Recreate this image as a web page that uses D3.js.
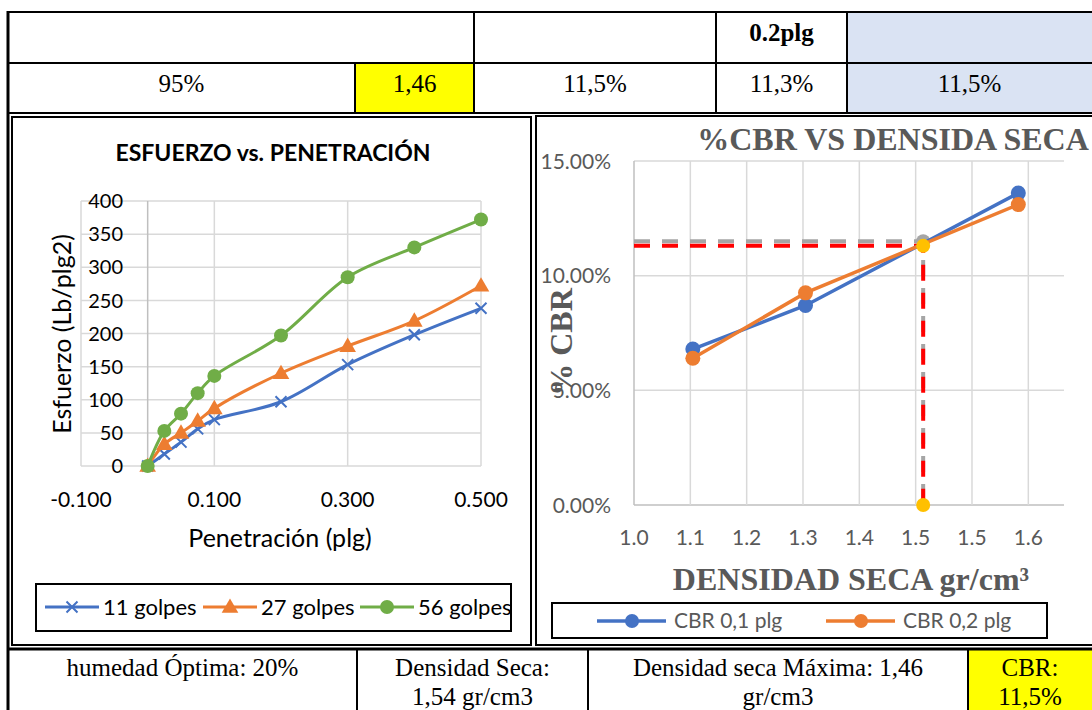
<!DOCTYPE html>
<html>
<head>
<meta charset="utf-8">
<script src="https://cdn.jsdelivr.net/npm/d3@7"></script>
<style>
  html, body { margin: 0; padding: 0; background: #fff; }
  svg { display: block; }
</style>
</head>
<body>
<div class="container"></div>
<script>
const w = 1092;
const h = 710;

// --- data: esfuerzo vs penetracion
const penetracion = [0, 0.025, 0.05, 0.075, 0.1, 0.2, 0.3, 0.4, 0.5];
const golpes11 = [0, 18, 36, 56, 70, 97, 153, 198, 238];
const golpes27 = [0, 33, 50, 68, 87, 140, 181, 219, 272];
const golpes56 = [0, 53, 79, 110, 136, 197, 285, 330, 372];
const penTicks = [-0.1, 0.1, 0.3, 0.5];
const esfTicks = [0, 50, 100, 150, 200, 250, 300, 350, 400];

// --- data: %CBR vs densidad seca
const densidad = [1.094, 1.274, 1.614];
const cbr01 = [6.8, 8.7, 13.6];
const cbr02 = [6.4, 9.25, 13.1];
const densTicks = [1.0, 1.09, 1.18, 1.27, 1.36, 1.45, 1.54, 1.63];
const densLabels = ["1.0", "1.1", "1.2", "1.3", "1.4", "1.5", "1.5", "1.6"];
const cbrTicks = [0, 5, 10, 15];
const dens95 = 1.462;
const cbrAt01 = 11.5;
const cbrAt02 = 11.3;

// --- table texts
const topRow1 = ["", "", "0.2plg", ""];
const topRow2 = ["95%", "1,46", "11,5%", "11,3%", "11,5%"];
const bottomRow = [["humedad Óptima: 20%"], ["Densidad Seca:", "1,54 gr/cm3"], ["Densidad seca Máxima: 1,46", "gr/cm3"], ["CBR:", "11,5%"]];

const sans = "Lato, 'Open Sans', sans-serif";
const serif = "'Liberation Serif', 'Times New Roman', serif";
const blue = "#4472c4", orange = "#ed7d31", green = "#70ad47", gray = "#a5a5a5", gold = "#ffc000";
const grid = "#d9d9d9", axisGray = "#bfbfbf", txtGray = "#595959";

const svg = d3.select('.container').append('svg')
  .attr('width', w)
  .attr('height', h);

svg.append('rect').attr('width', w).attr('height', h).attr('fill', '#fff');

// ================= top table =================
const topTable = svg.append('g');
const r1 = [8, 474, 716, 847, 1100];
const r2 = [8, 355, 474, 716, 847, 1100];
topTable.append('rect').attr('x', 847).attr('y', 12).attr('width', 260).attr('height', 101).attr('fill', '#dae3f3');
topTable.append('rect').attr('x', 355).attr('y', 63).attr('width', 119).attr('height', 50).attr('fill', '#ffff00');

topTable.append('line').attr('x1', 8).attr('x2', 1100).attr('y1', 12).attr('y2', 12);
topTable.append('line').attr('x1', 8).attr('x2', 1100).attr('y1', 63).attr('y2', 63);
topTable.append('line').attr('x1', 8).attr('x2', 1100).attr('y1', 113).attr('y2', 113);
r1.slice(1, -1).forEach(x => topTable.append('line').attr('x1', x).attr('x2', x).attr('y1', 12).attr('y2', 63));
r2.slice(1, -1).forEach(x => topTable.append('line').attr('x1', x).attr('x2', x).attr('y1', 63).attr('y2', 113));
topTable.selectAll('line').attr('stroke', '#000').attr('stroke-width', 2);

topRow1.forEach((t, i) => {
  topTable.append('text')
    .attr('x', (r1[i] + Math.min(r1[i + 1], w)) / 2)
    .attr('y', 41)
    .attr('text-anchor', 'middle')
    .attr('font-family', serif).attr('font-size', 25).attr('font-weight', 'bold')
    .text(t);
});
topRow2.forEach((t, i) => {
  topTable.append('text')
    .attr('x', (r2[i] + Math.min(r2[i + 1], 1092)) / 2)
    .attr('y', 92)
    .attr('text-anchor', 'middle')
    .attr('font-family', serif).attr('font-size', 25)
    .text(t);
});

// ================= left chart =================
const left = svg.append('g');
left.append('rect').attr('x', 12).attr('y', 117).attr('width', 519).attr('height', 528)
  .attr('fill', '#fff').attr('stroke', '#000').attr('stroke-width', 2);

const x1 = d3.scaleLinear().domain([-0.1, 0.5]).range([81, 481]);
const y1 = d3.scaleLinear().domain([0, 400]).range([466, 201]);

left.append('text')
  .attr('x', 273).attr('y', 161)
  .attr('text-anchor', 'middle')
  .attr('font-family', sans).attr('font-size', 23).attr('font-weight', 'bold')
  .text('ESFUERZO vs. PENETRACIÓN');

left.selectAll('.hgrid').data(esfTicks).enter().append('line')
  .attr('x1', x1(-0.1)).attr('x2', x1(0.5))
  .attr('y1', d => y1(d)).attr('y2', d => y1(d))
  .attr('stroke', grid).attr('stroke-width', 1.5);
left.selectAll('.vgrid').data(penTicks).enter().append('line')
  .attr('x1', d => x1(d)).attr('x2', d => x1(d))
  .attr('y1', y1(0)).attr('y2', y1(400))
  .attr('stroke', grid).attr('stroke-width', 1.5);
left.append('line')
  .attr('x1', x1(0)).attr('x2', x1(0)).attr('y1', y1(0)).attr('y2', y1(400))
  .attr('stroke', axisGray).attr('stroke-width', 1.5);

left.selectAll('.ytick').data(esfTicks).enter().append('text')
  .attr('x', 123).attr('y', d => y1(d)).attr('dy', '0.36em')
  .attr('text-anchor', 'end')
  .attr('font-family', sans).attr('font-size', 20)
  .text(d => d);
left.selectAll('.xtick').data(penTicks).enter().append('text')
  .attr('x', d => x1(d)).attr('y', 507)
  .attr('text-anchor', 'middle')
  .attr('font-family', sans).attr('font-size', 21)
  .text(d => d3.format('.3f')(d).replace('−', '-'));

left.append('text')
  .attr('transform', 'translate(71,334) rotate(-90)')
  .attr('text-anchor', 'middle')
  .attr('font-family', sans).attr('font-size', 25)
  .text('Esfuerzo (Lb/plg2)');
left.append('text')
  .attr('x', 280).attr('y', 547)
  .attr('text-anchor', 'middle')
  .attr('font-family', sans).attr('font-size', 25)
  .text('Penetración (plg)');

const smooth = d3.line()
  .x(d => x1(d[0])).y(d => y1(d[1]))
  .curve(d3.curveCatmullRom.alpha(0.5));

const leftSeries = [
  { name: '11 golpes', vals: golpes11, color: blue, mark: 'x' },
  { name: '27 golpes', vals: golpes27, color: orange, mark: 'tri' },
  { name: '56 golpes', vals: golpes56, color: green, mark: 'circle' }
];

function drawMark(g, type, color, cx, cy) {
  if (type === 'x') {
    g.append('path')
      .attr('d', `M${cx - 5.5},${cy - 5.5}L${cx + 5.5},${cy + 5.5}M${cx - 5.5},${cy + 5.5}L${cx + 5.5},${cy - 5.5}`)
      .attr('stroke', color).attr('stroke-width', 2).attr('fill', 'none');
  } else if (type === 'tri') {
    g.append('path')
      .attr('d', d3.symbol(d3.symbolTriangle, 120)())
      .attr('transform', `translate(${cx},${cy + 1})`)
      .attr('fill', color);
  } else {
    g.append('circle').attr('cx', cx).attr('cy', cy).attr('r', 7).attr('fill', color);
  }
}

leftSeries.forEach(s => {
  const pts = penetracion.map((p, i) => [p, s.vals[i]]);
  left.append('path').datum(pts)
    .attr('d', smooth)
    .attr('fill', 'none').attr('stroke', s.color).attr('stroke-width', 3);
  pts.forEach(p => drawMark(left, s.mark, s.color, x1(p[0]), y1(p[1])));
});

// left legend
left.append('clipPath').attr('id', 'legclip')
  .append('rect').attr('x', 36).attr('y', 584).attr('width', 475).attr('height', 47);
const legL = left.append('g').attr('clip-path', 'url(#legclip)');
const legLX = [45, 203, 360];
leftSeries.forEach((s, i) => {
  const lx = legLX[i];
  legL.append('line').attr('x1', lx).attr('x2', lx + 54).attr('y1', 607).attr('y2', 607)
    .attr('stroke', s.color).attr('stroke-width', 3);
  drawMark(legL, s.mark, s.color, lx + 27, 607);
  legL.append('text')
    .attr('x', lx + 58).attr('y', 615)
    .attr('font-family', sans).attr('font-size', 22)
    .text(s.name);
});
left.append('rect').attr('x', 36).attr('y', 584).attr('width', 475).attr('height', 47)
  .attr('fill', 'none').attr('stroke', '#000').attr('stroke-width', 2);

// ================= right chart =================
const right = svg.append('g');
right.append('rect').attr('x', 536).attr('y', 116).attr('width', 600).attr('height', 529)
  .attr('fill', '#fff').attr('stroke', '#000').attr('stroke-width', 2);

const x2 = d3.scaleLinear().domain([1.0, 1.687]).range([634, 1064]);
const y2 = d3.scaleLinear().domain([0, 15]).range([505, 161]);

right.selectAll('.hgrid').data(cbrTicks).enter().append('line')
  .attr('x1', x2(1.0)).attr('x2', x2(1.687))
  .attr('y1', d => y2(d)).attr('y2', d => y2(d))
  .attr('stroke', d => d === 0 ? axisGray : grid).attr('stroke-width', 1.5);
right.selectAll('.vgrid').data(densTicks).enter().append('line')
  .attr('x1', d => x2(d)).attr('x2', d => x2(d))
  .attr('y1', y2(0)).attr('y2', y2(15))
  .attr('stroke', (d, i) => i === 0 ? axisGray : grid).attr('stroke-width', 1.5);

right.selectAll('.ytick').data(cbrTicks).enter().append('text')
  .attr('x', 611).attr('y', d => y2(d)).attr('dy', '0.36em')
  .attr('text-anchor', 'end')
  .attr('font-family', sans).attr('font-size', 21).attr('fill', txtGray)
  .text(d => d3.format('.2f')(d) + '%');
right.selectAll('.xtick').data(densTicks).enter().append('text')
  .attr('x', d => x2(d)).attr('y', 545)
  .attr('text-anchor', 'middle')
  .attr('font-family', sans).attr('font-size', 21).attr('fill', txtGray)
  .text((d, i) => densLabels[i]);

right.append('text')
  .attr('x', 893).attr('y', 150)
  .attr('text-anchor', 'middle')
  .attr('font-family', serif).attr('font-size', 32).attr('font-weight', 'bold').attr('fill', txtGray)
  .text('%CBR VS DENSIDA SECA');
right.append('text')
  .attr('x', 851).attr('y', 590)
  .attr('text-anchor', 'middle')
  .attr('font-family', serif).attr('font-size', 32).attr('font-weight', 'bold').attr('fill', txtGray)
  .text('DENSIDAD SECA gr/cm³');
right.append('text')
  .attr('transform', 'translate(572,342) rotate(-90)')
  .attr('text-anchor', 'middle')
  .attr('font-family', serif).attr('font-size', 32).attr('font-weight', 'bold').attr('fill', txtGray)
  .text('% CBR');

// guide lines at 95% of max density
const guide = d3.line().x(d => x2(d[0])).y(d => y2(d[1]));
right.append('path').datum([[1.0, cbrAt01], [dens95, cbrAt01], [dens95, 0]])
  .attr('d', guide).attr('fill', 'none')
  .attr('stroke', gray).attr('stroke-width', 4).attr('stroke-dasharray', '16,12');
right.append('path').datum([[1.0, cbrAt02], [dens95, cbrAt02], [dens95, 0]])
  .attr('d', guide).attr('fill', 'none')
  .attr('stroke', '#ff0000').attr('stroke-width', 4).attr('stroke-dasharray', '16,12');
right.append('circle').attr('cx', x2(dens95)).attr('cy', y2(cbrAt01)).attr('r', 7).attr('fill', gray);

const straight = d3.line().x(d => x2(d[0])).y(d => y2(d[1]));
const rightSeries = [
  { name: 'CBR 0,1 plg', vals: cbr01, color: blue },
  { name: 'CBR 0,2 plg', vals: cbr02, color: orange }
];
rightSeries.forEach(s => {
  const pts = densidad.map((d, i) => [d, s.vals[i]]);
  right.append('path').datum(pts)
    .attr('d', straight)
    .attr('fill', 'none').attr('stroke', s.color).attr('stroke-width', 3.5);
  right.selectAll(null).data(pts).enter().append('circle')
    .attr('cx', d => x2(d[0])).attr('cy', d => y2(d[1])).attr('r', 7.5)
    .attr('fill', s.color);
});
right.append('circle').attr('cx', x2(dens95)).attr('cy', y2(cbrAt02)).attr('r', 7).attr('fill', gold);
right.append('circle').attr('cx', x2(dens95)).attr('cy', y2(0)).attr('r', 7).attr('fill', gold);

// right legend
right.append('rect').attr('x', 552).attr('y', 603).attr('width', 495).attr('height', 35)
  .attr('fill', '#fff').attr('stroke', '#000').attr('stroke-width', 2);
const legRX = [597, 826];
rightSeries.forEach((s, i) => {
  const lx = legRX[i];
  right.append('line').attr('x1', lx).attr('x2', lx + 69).attr('y1', 621).attr('y2', 621)
    .attr('stroke', s.color).attr('stroke-width', 3.5);
  right.append('circle').attr('cx', lx + 35).attr('cy', 621).attr('r', 7).attr('fill', s.color);
  right.append('text')
    .attr('x', lx + 77).attr('y', 628)
    .attr('font-family', sans).attr('font-size', 21).attr('fill', txtGray)
    .text(s.name);
});

// ================= bottom table =================
const bot = svg.append('g');
const bc = [8, 357, 588, 968, 1100];
bot.append('rect').attr('x', 968).attr('y', 649).attr('width', 130).attr('height', 70).attr('fill', '#ffff00');
bot.append('line').attr('x1', 8).attr('x2', 1100).attr('y1', 649).attr('y2', 649)
  .attr('stroke', '#000').attr('stroke-width', 3);
bc.slice(1, -1).forEach(x => bot.append('line').attr('x1', x).attr('x2', x).attr('y1', 649).attr('y2', 712)
  .attr('stroke', '#000').attr('stroke-width', 2));
bottomRow.forEach((lines, i) => {
  const cx = (bc[i] + Math.min(bc[i + 1], 1092)) / 2;
  lines.forEach((t, j) => {
    bot.append('text')
      .attr('x', cx).attr('y', 676 + j * 29)
      .attr('text-anchor', 'middle')
      .attr('font-family', serif).attr('font-size', 25)
      .text(t);
  });
});

// outer left border
svg.append('line').attr('x1', 8).attr('x2', 8).attr('y1', 11).attr('y2', 712)
  .attr('stroke', '#000').attr('stroke-width', 3);
</script>
</body>
</html>
